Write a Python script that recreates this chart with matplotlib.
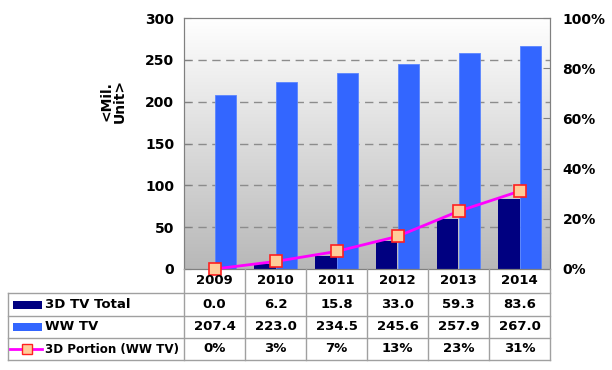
import numpy as np
import matplotlib
matplotlib.use("Agg")
import matplotlib.pyplot as plt
from matplotlib.lines import Line2D
from matplotlib.patches import Rectangle
from matplotlib.ticker import PercentFormatter
import matplotlib.transforms as mtransforms

# ---- données ----
years = ['2009', '2010', '2011', '2012', '2013', '2014']
tv3d_total = [0.0, 6.2, 15.8, 33.0, 59.3, 83.6]
ww_tv = [207.4, 223.0, 234.5, 245.6, 257.9, 267.0]
portion_3d = [0, 3, 7, 13, 23, 31]
series_names = ['3D TV Total', 'WW TV', '3D Portion (WW TV)']

NAVY = '#000080'
BLUE = '#3366FF'
MAGENTA = '#FF00FF'
GRID = '#8c8c8c'

plt.rcParams['font.family'] = 'DejaVu Sans'
plt.rcParams['font.weight'] = 'bold'

W, H = 612, 370
fig = plt.figure(figsize=(W / 100, H / 100), dpi=100)
fig.patch.set_facecolor('white')

def fy(py):
    return 1 - py / H

left, right, top, bottom = 184, 550, 18, 269
ax = fig.add_axes([left / W, fy(bottom), (right - left) / W, (bottom - top) / H])

# fond en dégradé
grad = np.linspace(1, 0, 256).reshape(-1, 1)
ax.imshow(grad, extent=[0, 1, 0, 1], transform=ax.transAxes, aspect='auto',
          cmap=matplotlib.colors.LinearSegmentedColormap.from_list('g', ['#b8b8b8', '#ffffff']),
          zorder=0)

x = np.arange(len(years))
w = 0.36
ax.bar(x - w / 2, tv3d_total, w, color=NAVY, zorder=2)
ax.bar(x + w / 2, ww_tv, w, color=BLUE, edgecolor='#5a85ff', linewidth=0.6, zorder=2)

ax.set_xlim(-0.5, len(years) - 0.5)
ax.set_ylim(0, 300)
ax.set_yticks(range(0, 301, 50))
ax.set_xticks([])
for yv in range(50, 300, 50):
    ax.axhline(yv, color=GRID, linestyle=(0, (6, 4)), linewidth=1, zorder=1)
for s in ax.spines.values():
    s.set_color('#808080')
ax.tick_params(axis='y', labelsize=10, length=5, direction='in', color='#808080', pad=7)
fig.text(113 / W, fy(101), '<Mil.\nUnit>', rotation=90, ha='center', va='center',
         fontsize=10, fontweight='bold', linespacing=1.0)

ax2 = ax.twinx()
ax2.set_ylim(0, 1)
ax2.set_yticks(np.arange(0, 1.01, 0.2))
ax2.yaxis.set_major_formatter(PercentFormatter(1.0, decimals=0))
ax2.tick_params(axis='y', labelsize=10, length=5, direction='in', color='#808080', pad=9)
for s in ax2.spines.values():
    s.set_color('#808080')
ax2.plot(x, np.array(portion_3d) / 100, color=MAGENTA, linewidth=2,
         marker='s', markersize=8, markerfacecolor='#FFCC99',
         markeredgecolor='#FF2020', markeredgewidth=1.2, zorder=5, clip_on=False)

# ---- tableau de données ----
tr = mtransforms.blended_transform_factory(ax.transData, fig.transFigure)
rows_px = [269, 293, 316, 338, 360]
tbl_left = 8 / W
line_kw = dict(color='#a0a0a0', linewidth=1)

for i in range(len(years) + 1):
    xb = i - 0.5
    fig.add_artist(Line2D([xb, xb], [fy(rows_px[0]), fy(rows_px[-1])], transform=tr, **line_kw))
for py in rows_px[1:]:
    fig.add_artist(Line2D([tbl_left, right / W], [fy(py), fy(py)], transform=fig.transFigure, **line_kw))
fig.add_artist(Line2D([tbl_left, tbl_left], [fy(rows_px[1]), fy(rows_px[-1])],
                      transform=fig.transFigure, **line_kw))

fs = 9.5
yc = [(rows_px[k] + rows_px[k + 1]) / 2 for k in range(4)]
for i, yr in enumerate(years):
    fig.text(i, fy(yc[0]), yr, transform=tr, ha='center', va='center', fontsize=fs, fontweight='bold')
    fig.text(i, fy(yc[1]), f'{tv3d_total[i]:.1f}', transform=tr, ha='center', va='center', fontsize=fs, fontweight='bold')
    fig.text(i, fy(yc[2]), f'{ww_tv[i]:.1f}', transform=tr, ha='center', va='center', fontsize=fs, fontweight='bold')
    fig.text(i, fy(yc[3]), f'{portion_3d[i]}%', transform=tr, ha='center', va='center', fontsize=fs, fontweight='bold')

# clés de légende dans la colonne d'étiquettes
fig.add_artist(Rectangle((13 / W, fy(yc[1] + 4)), 29 / W, 8 / H, transform=fig.transFigure,
                         facecolor=NAVY, edgecolor='none'))
fig.add_artist(Rectangle((13 / W, fy(yc[2] + 4)), 29 / W, 8 / H, transform=fig.transFigure,
                         facecolor=BLUE, edgecolor='none'))
fig.add_artist(Line2D([10 / W, 42 / W], [fy(yc[3]), fy(yc[3])], transform=fig.transFigure,
                      color=MAGENTA, linewidth=2))
fig.add_artist(Line2D([27 / W], [fy(yc[3])], transform=fig.transFigure, marker='s', markersize=7,
                      markerfacecolor='#FFCC99', markeredgecolor='#FF2020', markeredgewidth=1))
label_fs = [9.5, 9.5, 8.6]
for k, name in enumerate(series_names):
    fig.text(45 / W, fy(yc[k + 1]), name, ha='left', va='center', fontsize=label_fs[k], fontweight='bold')

fig.savefig('out.png', dpi=100)
